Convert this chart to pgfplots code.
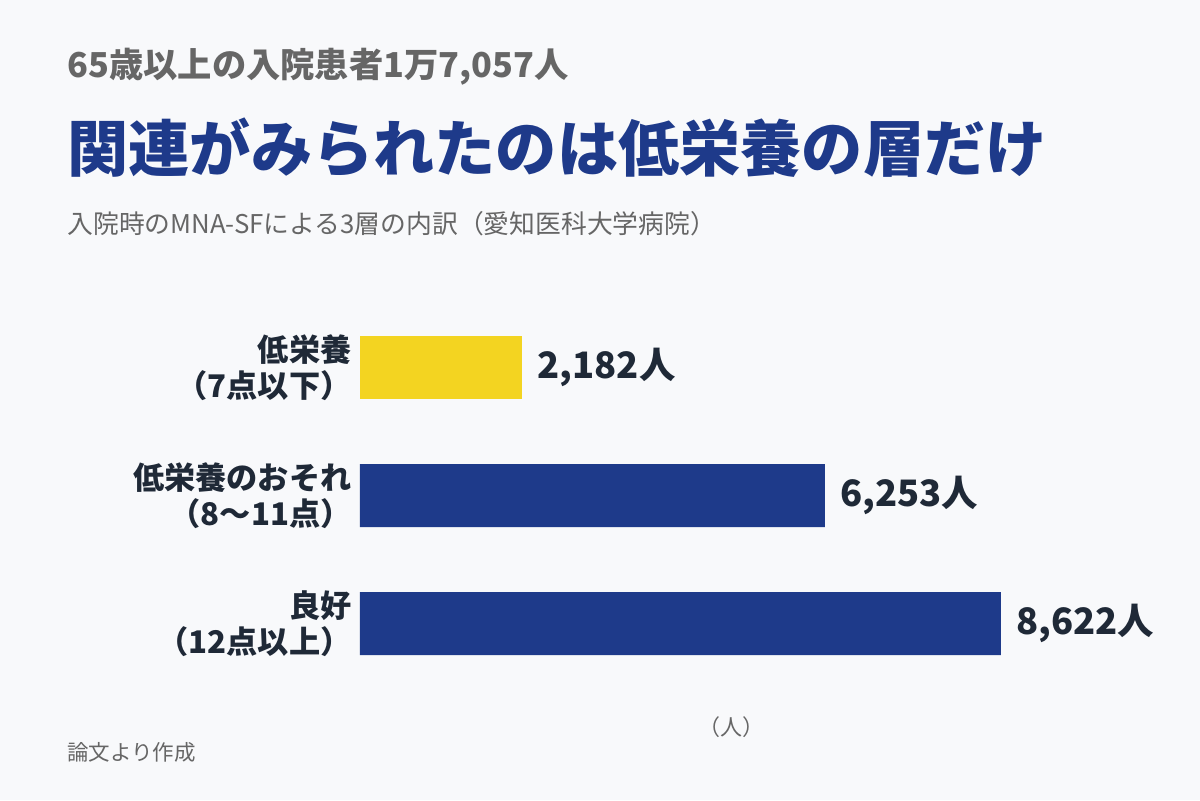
\documentclass[border=0pt]{standalone}
\usepackage{fontspec}
\setmainfont{Noto Sans CJK JP}
\usepackage{pgfplots}
\pgfplotsset{compat=1.18}

\definecolor{bgcol}{HTML}{F8F9FB}
\definecolor{navy}{HTML}{1E3A8A}
\definecolor{yel}{HTML}{F3D421}
\definecolor{ink}{HTML}{1F2937}
\definecolor{greytxt}{HTML}{666666}

\begin{document}
\begin{tikzpicture}
% 1px = 0.5pt, origin at top-left corner
\fill[bgcol] (0,0) rectangle (600pt,-400pt);

\node[anchor=west, inner sep=0pt, text=greytxt,
  font=\bfseries\fontsize{17.15}{20}\selectfont] at (33.5pt,-33.5pt)
  {65歳以上の入院患者1万7,057人};
\node[anchor=west, inner sep=0pt, text=navy,
  font=\bfseries\fontsize{30.6}{34}\selectfont] at (33.5pt,-74pt)
  {関連がみられたのは低栄養の層だけ};
\node[anchor=west, inner sep=0pt, text=greytxt,
  font=\fontsize{12.9}{15}\selectfont] at (33.5pt,-112pt)
  {入院時のMNA-SFによる3層の内訳（愛知医科大学病院）};

\begin{axis}[
  at={(180pt,-151.75pt)}, anchor=north west,
  scale only axis,
  width=320.5pt, height=192pt,
  xmin=0, xmax=8622,
  ymin=-0.5, ymax=2.5,
  y dir=reverse,
  axis line style={draw=none},
  major tick length=0pt,
  xtick=\empty,
  ytick={0,1,2},
  yticklabels={{低栄養\\（7点以下）},{低栄養のおそれ\\（8〜11点）},{良好\\（12点以上）}},
  yticklabel style={align=right, anchor=east, inner sep=0pt, xshift=-4pt,
    text=ink, font=\bfseries\fontsize{15.6}{18}\selectfont},
  xbar, bar width=31.5pt, bar shift=0pt,
  point meta=x,
  nodes near coords={\pgfmathprintnumber{\pgfplotspointmeta}人},
  every node near coord/.append style={anchor=west, inner sep=0pt, xshift=7.5pt,
    text=ink, font=\bfseries\fontsize{18.2}{22}\selectfont},
  /pgf/number format/.cd, fixed, precision=0, 1000 sep={,}, assume math mode=true,
]
\addplot[draw=none, fill=yel] coordinates {(2182,0)};
\addplot[draw=none, fill=navy] coordinates {(6253,1) (8622,2)};
\end{axis}

\node[inner sep=0pt, text=greytxt, font=\fontsize{11}{13}\selectfont]
  at (365.5pt,-363.5pt) {（人）};
\node[anchor=west, inner sep=0pt, text=greytxt,
  font=\fontsize{10.75}{13}\selectfont] at (33.5pt,-376pt) {論文より作成};

\pgfresetboundingbox
\useasboundingbox (0,0) rectangle (600pt,-400pt);
\end{tikzpicture}
\end{document}
